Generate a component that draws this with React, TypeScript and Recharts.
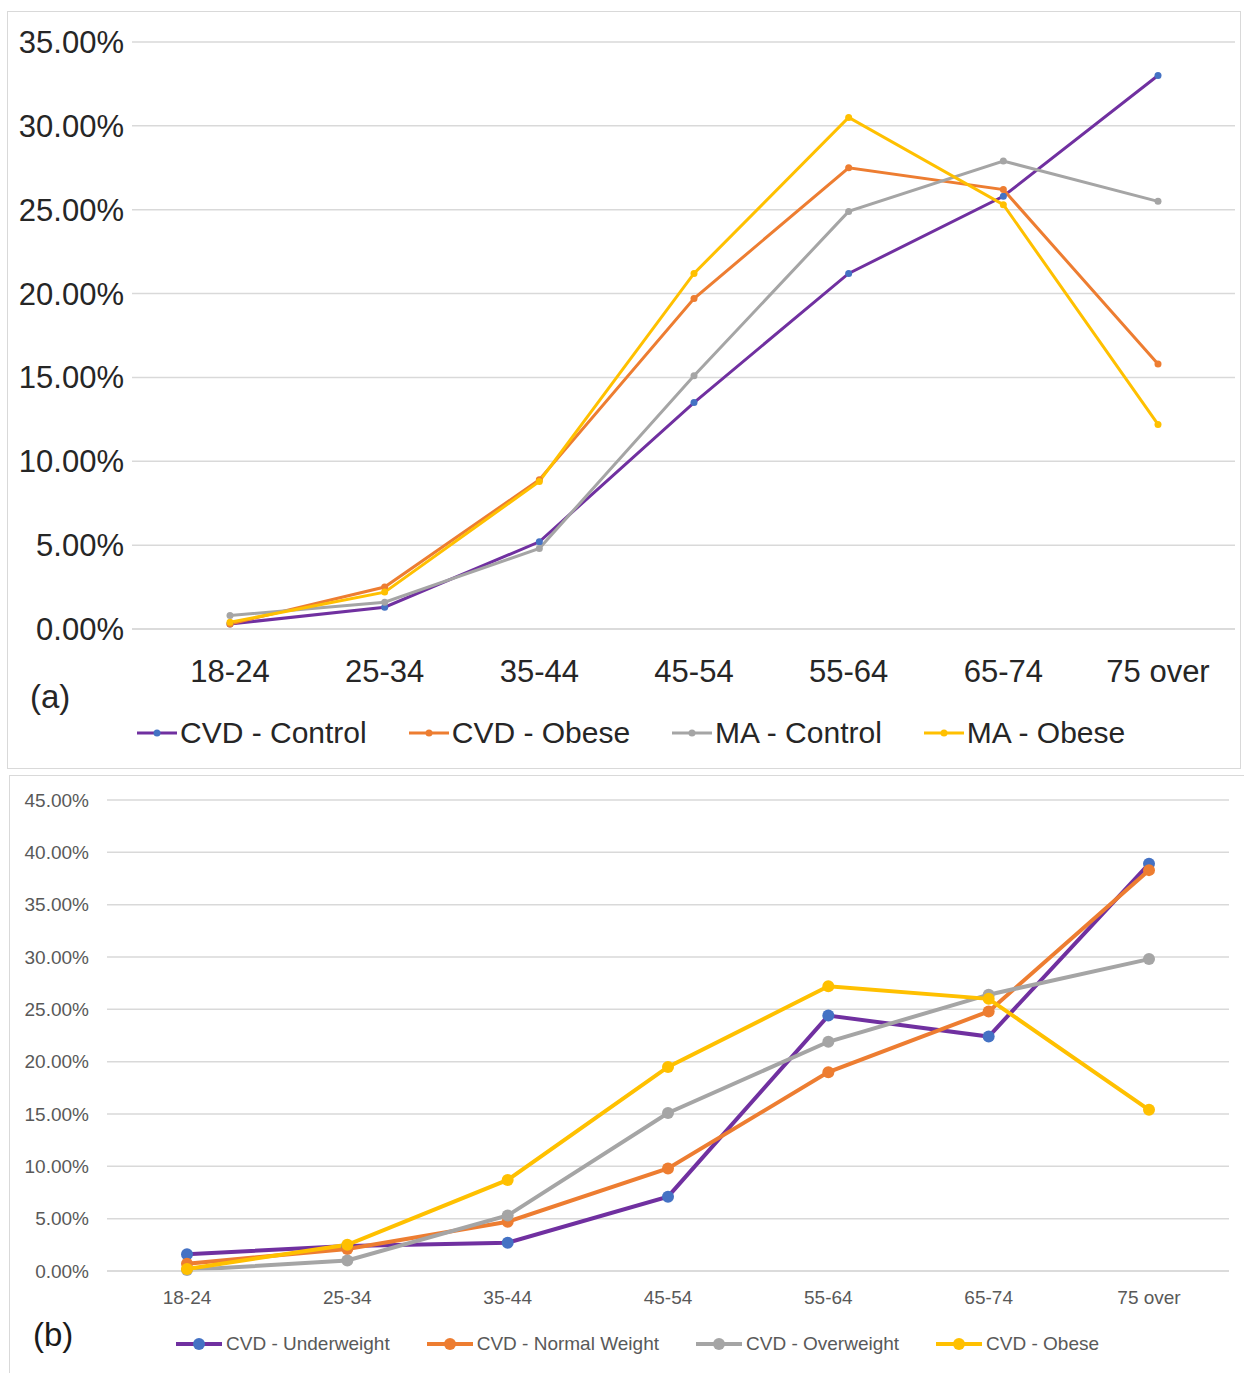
import React from 'react';
import { LineChart, Line, XAxis, YAxis, CartesianGrid, Legend } from 'recharts';

// ---------- shared categories ----------
const categories = ['18-24', '25-34', '35-44', '45-54', '55-64', '65-74', '75 over'];

// ---------- chart (a) ----------
const cvdControlA = [0.3, 1.3, 5.2, 13.5, 21.2, 25.8, 33.0];
const cvdObeseA = [0.3, 2.5, 8.9, 19.7, 27.5, 26.2, 15.8];
const maControlA = [0.8, 1.6, 4.8, 15.1, 24.9, 27.9, 25.5];
const maObeseA = [0.4, 2.2, 8.8, 21.2, 30.5, 25.3, 12.2];
const yTicksA = [0, 5, 10, 15, 20, 25, 30, 35];

// ---------- chart (b) ----------
const underweightB = [1.6, 2.4, 2.7, 7.1, 24.4, 22.4, 38.9];
const normalWeightB = [0.7, 2.1, 4.7, 9.8, 19.0, 24.8, 38.3];
const overweightB = [0.1, 1.0, 5.3, 15.1, 21.9, 26.4, 29.8];
const obeseB = [0.2, 2.5, 8.7, 19.5, 27.2, 26.0, 15.4];
const yTicksB = [0, 5, 10, 15, 20, 25, 30, 35, 40, 45];

const seriesA = [
  { key: 'cvdControl', name: 'CVD - Control', color: '#7030A0', marker: '#4472C4', values: cvdControlA },
  { key: 'cvdObese', name: 'CVD - Obese', color: '#ED7D31', marker: '#ED7D31', values: cvdObeseA },
  { key: 'maControl', name: 'MA - Control', color: '#A5A5A5', marker: '#A5A5A5', values: maControlA },
  { key: 'maObese', name: 'MA - Obese', color: '#FFC000', marker: '#FFC000', values: maObeseA },
];

const seriesB = [
  { key: 'under', name: 'CVD - Underweight', color: '#7030A0', marker: '#4472C4', values: underweightB },
  { key: 'normal', name: 'CVD - Normal Weight', color: '#ED7D31', marker: '#ED7D31', values: normalWeightB },
  { key: 'over', name: 'CVD - Overweight', color: '#A5A5A5', marker: '#A5A5A5', values: overweightB },
  { key: 'obese', name: 'CVD - Obese', color: '#FFC000', marker: '#FFC000', values: obeseB },
];

const buildData = (series: typeof seriesA) =>
  categories.map((c, i) => {
    const row: Record<string, any> = { cat: c };
    series.forEach((s) => {
      row[s.key] = s.values[i];
    });
    return row;
  });

const dataA = buildData(seriesA);
const dataB = buildData(seriesB);

const FONT = "'Liberation Sans', Arial, sans-serif";
const pct = (v: number) => `${v.toFixed(2)}%`;

const LegendA = () => (
  <div style={{ display: 'flex', alignItems: 'center', height: 50, paddingLeft: 129, fontFamily: FONT, fontSize: 30, color: '#262626' }}>
    {seriesA.map((s) => (
      <div key={s.key} style={{ display: 'flex', alignItems: 'center', marginRight: 42 }}>
        <svg width={40} height={12} style={{ marginRight: 3 }}>
          <line x1={0} y1={6} x2={40} y2={6} stroke={s.color} strokeWidth={3} />
          <circle cx={20} cy={6} r={3.5} fill={s.marker} />
        </svg>
        <span style={{ whiteSpace: 'nowrap', lineHeight: '50px' }}>{s.name}</span>
      </div>
    ))}
  </div>
);

const LegendB = () => (
  <div style={{ display: 'flex', alignItems: 'center', height: 40, paddingLeft: 166, fontFamily: FONT, fontSize: 19, color: '#595959' }}>
    {seriesB.map((s) => (
      <div key={s.key} style={{ display: 'flex', alignItems: 'center', marginRight: 37 }}>
        <svg width={46} height={14} style={{ marginRight: 4 }}>
          <line x1={0} y1={7} x2={46} y2={7} stroke={s.color} strokeWidth={4} />
          <circle cx={23} cy={7} r={6} fill={s.marker} />
        </svg>
        <span style={{ whiteSpace: 'nowrap', lineHeight: '40px' }}>{s.name}</span>
      </div>
    ))}
  </div>
);

export default function App() {
  return (
    <div style={{ position: 'absolute', left: 0, top: 0, width: 1244, height: 1373, background: '#ffffff', overflow: 'hidden' }}>
      {/* chart (a) */}
      <div style={{ position: 'absolute', left: 7, top: 11, width: 1232, height: 756, border: '1px solid #d9d9d9' }}>
        <LineChart width={1232} height={756} data={dataA} margin={{ top: 30, right: 5, bottom: 10, left: 0 }}>
          <CartesianGrid vertical={false} stroke="#d9d9d9" strokeWidth={1.5} />
          <XAxis
            dataKey="cat"
            height={79}
            padding={{ left: 98, right: 77 }}
            tickLine={false}
            tickSize={0}
            tickMargin={31}
            axisLine={{ stroke: '#d9d9d9', strokeWidth: 1.5 }}
            tick={{ fontFamily: FONT, fontSize: 31, fill: '#262626' }}
            interval={0}
          />
          <YAxis
            width={124}
            domain={[0, 35]}
            ticks={yTicksA}
            tickFormatter={pct}
            axisLine={false}
            tickLine={false}
            tickSize={0}
            tickMargin={8}
            tick={{ fontFamily: FONT, fontSize: 31, fill: '#262626' }}
            interval={0}
          />
          <Legend verticalAlign="bottom" align="left" content={() => <LegendA />} />
          {seriesA.map((s) => (
            <Line
              key={s.key}
              type="linear"
              dataKey={s.key}
              name={s.name}
              stroke={s.color}
              strokeWidth={3}
              dot={{ r: 3.5, fill: s.marker, stroke: s.marker, strokeWidth: 0 }}
              activeDot={false}
              isAnimationActive={false}
            />
          ))}
        </LineChart>
        <div style={{ position: 'absolute', left: 22, top: 666, fontFamily: FONT, fontSize: 33, color: '#262626' }}>(a)</div>
      </div>

      {/* chart (b) */}
      <div style={{ position: 'absolute', left: 9, top: 775, width: 1235, height: 598, borderLeft: '1px solid #d9d9d9', borderTop: '1px solid #d9d9d9' }}>
        <LineChart width={1235} height={598} data={dataB} margin={{ top: 24, right: 16, bottom: 10, left: 0 }}>
          <CartesianGrid vertical={false} stroke="#d9d9d9" strokeWidth={1.5} />
          <XAxis
            dataKey="cat"
            height={53}
            padding={{ left: 80, right: 80 }}
            tickLine={false}
            tickSize={0}
            tickMargin={20}
            axisLine={{ stroke: '#d9d9d9', strokeWidth: 1.5 }}
            tick={{ fontFamily: FONT, fontSize: 19, fill: '#595959' }}
            interval={0}
          />
          <YAxis
            width={97}
            domain={[0, 45]}
            ticks={yTicksB}
            tickFormatter={pct}
            axisLine={false}
            tickLine={false}
            tickSize={0}
            tickMargin={18}
            tick={{ fontFamily: FONT, fontSize: 19, fill: '#595959' }}
            interval={0}
          />
          <Legend verticalAlign="bottom" align="left" content={() => <LegendB />} />
          {seriesB.map((s) => (
            <Line
              key={s.key}
              type="linear"
              dataKey={s.key}
              name={s.name}
              stroke={s.color}
              strokeWidth={4}
              dot={{ r: 6, fill: s.marker, stroke: s.marker, strokeWidth: 0 }}
              activeDot={false}
              isAnimationActive={false}
            />
          ))}
        </LineChart>
        <div style={{ position: 'absolute', left: 23, top: 540, fontFamily: FONT, fontSize: 33, color: '#1a1a1a' }}>(b)</div>
      </div>
    </div>
  );
}
